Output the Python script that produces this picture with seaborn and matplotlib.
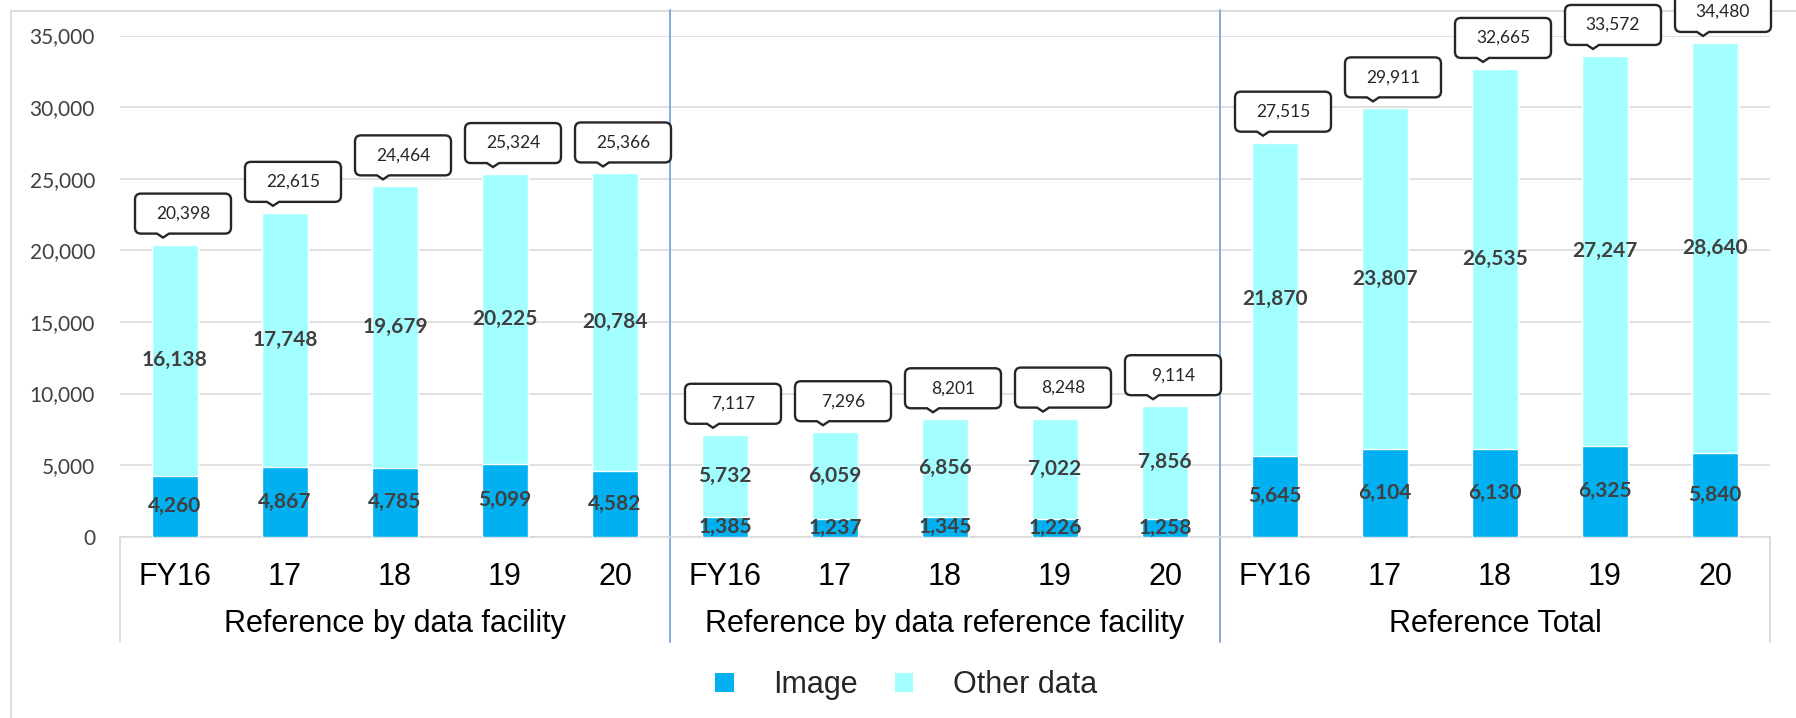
import numpy as np
import pandas as pd
import matplotlib
matplotlib.use("Agg")
import matplotlib.pyplot as plt
import matplotlib.transforms as mtransforms
from matplotlib.path import Path
from matplotlib.patches import PathPatch, Patch, Rectangle
from matplotlib.lines import Line2D
from matplotlib.ticker import FuncFormatter
import seaborn as sns

# ---- data -------------------------------------------------------------
groups = ["Reference by data facility",
          "Reference by data reference facility",
          "Reference Total"]
years = ["FY16", "17", "18", "19", "20"]

image_facility = [4260, 4867, 4785, 5099, 4582]
other_facility = [16138, 17748, 19679, 20225, 20784]

image_ref_facility = [1385, 1237, 1345, 1226, 1258]
other_ref_facility = [5732, 6059, 6856, 7022, 7856]

image_total = [5645, 6104, 6130, 6325, 5840]
other_total = [21870, 23807, 26535, 27247, 28640]

series_names = ["Image", "Other data"]
y_ticks = [0, 5000, 10000, 15000, 20000, 25000, 30000, 35000]

# ---- long table -------------------------------------------------------
image_sets = [image_facility, image_ref_facility, image_total]
other_sets = [other_facility, other_ref_facility, other_total]
rows = []
for g, (imgs, oths) in enumerate(zip(image_sets, other_sets)):
    for y, im, ot in zip(years, imgs, oths):
        rows.append({"key": f"{g}-{y}", "group": groups[g], "year": y,
                     "image": im, "other": ot, "total": im + ot})
df = pd.DataFrame(rows)
order = list(df["key"])

# ---- style ------------------------------------------------------------
sns.set_style("white")
plt.rcParams["font.family"] = ["Lato", "DejaVu Sans"]

IMAGE_C = "#00B0F0"
OTHER_C = "#A3FFFF"
GRID_C = "#D9D9D9"
DIV_C = "#7AA6DA"
LABEL_C = "#404040"

W, H = 1796, 718
fig = plt.figure(figsize=(W / 100, H / 100), dpi=100)
y0_px, y35_px = 536.7, 35.5
ax = fig.add_axes([120 / W, 1 - y0_px / H, 1650 / W, (y0_px - y35_px) / H])

# stacked bars: totals underneath, image share on top of them
sns.barplot(data=df, x="key", y="total", order=order, color=OTHER_C,
            saturation=1, width=0.42, errorbar=None, ax=ax, zorder=3)
sns.barplot(data=df, x="key", y="image", order=order, color=IMAGE_C,
            saturation=1, width=0.42, errorbar=None, ax=ax, zorder=3)

ax.set_xlim(-0.5, len(order) - 0.5)
ax.set_ylim(0, 35000)
ax.set_xlabel("")
ax.set_ylabel("")

# y axis
ax.set_yticks(y_ticks)
ax.yaxis.set_major_formatter(FuncFormatter(lambda v, p: f"{int(v):,}"))
ax.tick_params(axis="y", length=0, pad=18, labelsize=15, labelcolor=LABEL_C)
ax.grid(axis="y", color=GRID_C, linewidth=1.1, zorder=0)
ax.set_axisbelow(True)

# x axis
ax.set_xticks(range(len(order)))
ax.set_xticklabels(list(df["year"]), fontsize=22,
                   fontfamily="Liberation Sans", color="black")
ax.tick_params(axis="x", length=0, pad=18)

for s in ["top", "right", "left"]:
    ax.spines[s].set_visible(False)
ax.spines["bottom"].set_color(GRID_C)
ax.spines["bottom"].set_linewidth(1.1)

# segment value labels
for i, r in df.iterrows():
    ax.text(i, r["image"] / 2, f"{r['image']:,}", ha="center", va="center",
            fontsize=15, fontweight="bold", color=LABEL_C, zorder=5)
    ax.text(i, r["image"] + r["other"] / 2, f"{r['other']:,}", ha="center",
            va="center", fontsize=15, fontweight="bold", color=LABEL_C, zorder=5)


# callout bubbles with totals (path in pixel offsets from the bar top)
def bubble_path(w=96, h=40, gap=11, rad=6, cx=8, px=-12, pw=12, tip=7):
    l, rt = cx - w / 2, cx + w / 2
    b, t = gap, gap + h
    verts = [(l + rad, b), (px - pw / 2, b), (px, tip), (px + pw / 2, b),
             (rt - rad, b), (rt, b), (rt, b + rad), (rt, t - rad),
             (rt, t), (rt - rad, t), (l + rad, t), (l, t), (l, t - rad),
             (l, b + rad), (l, b), (l + rad, b), (l + rad, b)]
    codes = [Path.MOVETO, Path.LINETO, Path.LINETO, Path.LINETO,
             Path.LINETO, Path.CURVE3, Path.CURVE3, Path.LINETO,
             Path.CURVE3, Path.CURVE3, Path.LINETO, Path.CURVE3, Path.CURVE3,
             Path.LINETO, Path.CURVE3, Path.CURVE3, Path.CLOSEPOLY]
    return Path(verts, codes)


bp = bubble_path()
for i, r in df.iterrows():
    tr = mtransforms.Affine2D() + mtransforms.ScaledTranslation(
        i, r["total"], ax.transData)
    ax.add_patch(PathPatch(bp, transform=tr, facecolor="white",
                           edgecolor="#262626", linewidth=1.7,
                           clip_on=False, zorder=6))
    ax.text(8, 31, f"{r['total']:,}", transform=tr, ha="center", va="center",
            fontsize=12.5, color="#262626", zorder=7, clip_on=False)

# group labels, dividers and the category box under the axis
fy = lambda px: 1 - px / H
bt = mtransforms.blended_transform_factory(ax.transData, fig.transFigure)
for g, name in enumerate(groups):
    ax.text(g * 5 + 2, fy(624), name, transform=bt, ha="center", va="center",
            fontsize=22, fontfamily="Liberation Sans", color="black")
for xd in [4.5, 9.5]:
    ax.add_line(Line2D([xd, xd], [fy(10), fy(642)], transform=bt,
                       color=DIV_C, linewidth=1.3, clip_on=False, zorder=1))
for xd in [-0.5, len(order) - 0.5]:
    ax.add_line(Line2D([xd, xd], [fy(y0_px), fy(642)], transform=bt,
                       color=GRID_C, linewidth=1.3, clip_on=False, zorder=1))

# chart area border, kept behind the plot
fig.add_artist(Rectangle((10.5 / W, -0.05), 1.2, 1.05 - 10.5 / H,
                         transform=fig.transFigure, fill=False,
                         edgecolor=GRID_C, linewidth=1.3, zorder=-1))

# legend
handles = [Patch(facecolor=IMAGE_C, edgecolor="none"),
           Patch(facecolor=OTHER_C, edgecolor="none")]
fig.legend(handles, series_names, loc="center",
           bbox_to_anchor=(906 / W, fy(685)), ncol=2, frameon=False,
           prop={"family": "Liberation Sans", "size": 22},
           handlelength=0.6, handleheight=0.6, handletextpad=1.3,
           columnspacing=1.2)

fig.savefig("out.png", dpi=100)
